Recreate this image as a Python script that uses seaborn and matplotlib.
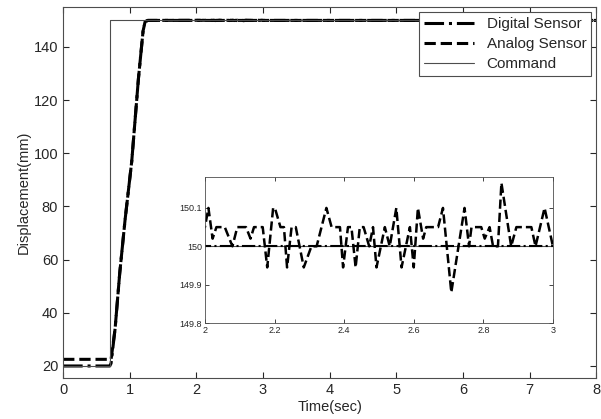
import matplotlib
matplotlib.use("Agg")
import matplotlib.pyplot as plt
import seaborn as sns

# step response: sensors and command
digital_t = [0, 0.70, 0.72, 0.78, 0.85, 0.93, 1.03, 1.13, 1.20, 1.23, 1.27, 8]
digital_v = [20, 20, 21, 34, 55, 75, 97, 128, 146, 149.5, 150, 150]

analog_ramp_t = [0, 0.70, 0.72, 0.78, 0.85, 0.93, 1.03, 1.13, 1.20, 1.23, 1.27]
analog_ramp_v = [22.5, 22.5, 22.5, 34, 55, 75, 97, 128, 146, 149.5, 150]

# zoomed analog noise between 2 and 3 sec
noise_t = [2.000, 2.010, 2.022, 2.033, 2.057, 2.079, 2.093, 2.118, 2.131, 2.141,
           2.166, 2.179, 2.196, 2.201, 2.217, 2.227, 2.236, 2.249, 2.261, 2.284,
           2.306, 2.321, 2.349, 2.364, 2.388, 2.397, 2.411, 2.421, 2.433, 2.445,
           2.456, 2.472, 2.483, 2.493, 2.517, 2.531, 2.550, 2.565, 2.589, 2.600,
           2.612, 2.627, 2.636, 2.670, 2.684, 2.708, 2.746, 2.759, 2.766, 2.794,
           2.804, 2.818, 2.828, 2.842, 2.852, 2.880, 2.895, 2.938, 2.950, 2.976,
           3.000]
noise_v = [150.05, 150.1, 150.02, 150.05, 150.05, 150.0, 150.05, 150.05, 150.02, 150.05,
           150.05, 149.945, 150.1, 150.1, 150.05, 150.05, 149.945, 150.05, 150.05, 149.945,
           150.0, 150.0, 150.1, 150.05, 150.05, 149.945, 150.05, 150.05, 149.945, 150.05,
           150.05, 150.0, 150.05, 149.945, 150.05, 150.0, 150.1, 149.945, 150.05, 149.945,
           150.1, 150.02, 150.05, 150.05, 150.1, 149.88, 150.1, 150.0, 150.05, 150.05,
           150.02, 150.05, 150.0, 150.0, 150.165, 150.0, 150.05, 150.05, 150.0, 150.1,
           150.0]

analog_t = analog_ramp_t + noise_t + [8]
analog_v = analog_ramp_v + noise_v + [150]

command_t = [0, 0.70, 0.70, 8]
command_v = [20, 20, 150, 150]

sns.set_style("ticks")
plt.rcParams["font.family"] = ["Liberation Sans", "DejaVu Sans"]

fig = plt.figure(figsize=(6.01, 4.19), dpi=100)
ax = fig.add_axes([0.105, 0.098, 0.887, 0.885])

sns.lineplot(x=digital_t, y=digital_v, ax=ax, color="k", lw=2.2, linestyle="-.",
             estimator=None, sort=False, label="Digital Sensor")
sns.lineplot(x=analog_t, y=analog_v, ax=ax, color="k", lw=2.2, linestyle="--",
             estimator=None, sort=False, label="Analog Sensor")
sns.lineplot(x=command_t, y=command_v, ax=ax, color="0.3", lw=0.8,
             estimator=None, sort=False, label="Command")

ax.set_xlim(0, 8)
ax.set_ylim(15.5, 155)
ax.set_xticks(range(0, 9))
ax.set_yticks(range(20, 141, 20))
ax.tick_params(direction="in", top=True, right=True, labelsize=10.5, length=4, width=0.8)
ax.set_xlabel("Time(sec)", fontsize=10.5, labelpad=2)
ax.set_ylabel("Displacement(mm)", fontsize=10.5, labelpad=2)
for s in ax.spines.values():
    s.set_linewidth(0.8)
    s.set_color("0.3")

leg = ax.legend(loc="upper right", bbox_to_anchor=(1.0, 1.0), borderaxespad=0.35,
                fontsize=11, frameon=True, fancybox=False, edgecolor="0.3", framealpha=1,
                handlelength=3.3, borderpad=0.3, labelspacing=0.4, handletextpad=0.8)
leg.get_frame().set_linewidth(0.8)

# inset
ins = fig.add_axes([0.341, 0.229, 0.579, 0.348])
sns.lineplot(x=command_t, y=command_v, ax=ins, color="0.3", lw=0.8,
             estimator=None, sort=False)
sns.lineplot(x=digital_t, y=digital_v, ax=ins, color="k", lw=1.5, linestyle="-.",
             estimator=None, sort=False)
sns.lineplot(x=analog_t, y=analog_v, ax=ins, color="k", lw=1.8, linestyle="--",
             estimator=None, sort=False)
ins.set_xlim(2, 3)
ins.set_ylim(149.8, 150.18)
ins.set_xticks([2, 2.2, 2.4, 2.6, 2.8, 3])
ins.set_xticklabels(["2", "2.2", "2.4", "2.6", "2.8", "3"])
ins.set_yticks([149.8, 149.9, 150, 150.1])
ins.set_yticklabels(["149.8", "149.9", "150", "150.1"])
ins.tick_params(direction="in", top=True, right=True, labelsize=6.5, length=3, width=0.6, pad=2)
for s in ins.spines.values():
    s.set_linewidth(0.6)
    s.set_color("0.3")
ins.set_facecolor("white")

fig.savefig("out.png", dpi=100)
